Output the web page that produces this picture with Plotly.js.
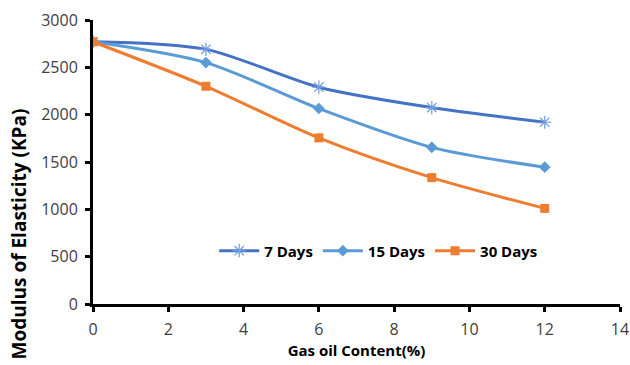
<!DOCTYPE html>
<html>
<head>
<meta charset="utf-8">
<script src="https://cdn.plot.ly/plotly-3.0.1.min.js"></script>
<style>
  html, body { margin: 0; padding: 0; background: #fff; }
  #chart { width: 630px; height: 365px; }
</style>
</head>
<body>
<div id="chart"></div>
<script>
// Gas oil content (%) and modulus of elasticity (KPa) by curing time
const gasOilContent = [0, 3, 6, 9, 12];
const days7 = [2770, 2690, 2290, 2075, 1920];
const days15 = [2770, 2550, 2065, 1655, 1445];
const days30 = [2770, 2300, 1755, 1335, 1010];
const seriesNames = ['7 Days', '15 Days', '30 Days'];
const xTicks = [0, 2, 4, 6, 8, 10, 12, 14];
const yTicks = [0, 500, 1000, 1500, 2000, 2500, 3000];

const font = 'Open Sans, Liberation Sans, sans-serif';

function series(name, y, color, symbol, size) {
  return {
    x: gasOilContent, y: y, name: name,
    type: 'scatter', mode: 'lines+markers',
    line: { color: color, width: 3, shape: 'spline', smoothing: 0.8 },
    marker: { symbol: symbol, size: size, color: color,
              line: { color: color, width: symbol === 'asterisk-open' ? 1.2 : 0 } }
  };
}

const traces = [
  series(seriesNames[0], days7, '#4472C4', 'asterisk-open', 11),
  series(seriesNames[1], days15, '#5B9BD5', 'diamond', 9),
  series(seriesNames[2], days30, '#ED7D31', 'square', 9)
];
traces[0].marker.color = '#6F9BE0';
traces[0].marker.line.color = '#6F9BE0';

const axisCommon = {
  showgrid: false, zeroline: false,
  showline: true, linecolor: '#000', linewidth: 3,
  ticks: 'outside', ticklen: 5, tickwidth: 3, tickcolor: '#000',
  tickfont: { family: font, size: 16, color: '#404040' },
  fixedrange: true
};

const layout = {
  width: 630, height: 365,
  margin: { l: 93, r: 10, t: 20, b: 61 },
  paper_bgcolor: '#fff', plot_bgcolor: '#fff',
  showlegend: true,
  legend: {
    orientation: 'h', x: 0.23, y: 0.187, xanchor: 'left', yanchor: 'middle',
    font: { family: font, size: 15, color: '#000', weight: 'bold' },
    bgcolor: 'rgba(0,0,0,0)', itemwidth: 40, tracegroupgap: 0
  },
  xaxis: Object.assign({}, axisCommon, {
    range: [0, 14], tickvals: xTicks, ticktext: xTicks.map(String),
    ticklabelstandoff: 4,
    title: { text: 'Gas oil Content(%)', standoff: 3,
             font: { family: font, size: 15, color: '#000', weight: 'bold' } }
  }),
  yaxis: Object.assign({}, axisCommon, {
    range: [0, 3000], tickvals: yTicks, ticktext: yTicks.map(String),
    ticklabelstandoff: 4
  }),
  annotations: [{
    // y-axis title, drawn lower than the plot centre
    text: 'Modulus of Elasticity (KPa)', textangle: -90,
    xref: 'paper', yref: 'paper', x: -0.1404, y: 0.245,
    xanchor: 'center', yanchor: 'middle', showarrow: false,
    font: { family: font, size: 19, color: '#000', weight: 'bold' }
  }]
};

Plotly.newPlot('chart', traces, layout, { displayModeBar: false, staticPlot: true });
</script>
</body>
</html>
